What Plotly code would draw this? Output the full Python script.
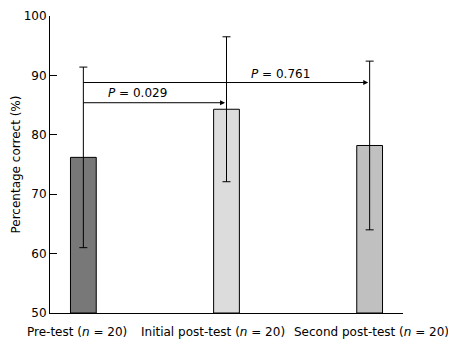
import plotly.graph_objects as go

categories = ["Pre-test", "Initial post-test", "Second post-test"]
n_values = [20, 20, 20]
means = [76.2, 84.3, 78.2]
errors = [15.2, 12.2, 14.2]
bar_colors = ["#787878", "#dcdcdc", "#c0c0c0"]
comparisons = [(0, 1, 85.4, "0.029"), (0, 2, 88.8, "0.761")]
p_label_pos = [(0.38, 87.1), (1.38, 90.3)]
y_ticks = [50, 60, 70, 80, 90, 100]

FONT = "DejaVu Sans"
xpos = list(range(len(categories)))

fig = go.Figure()
fig.add_trace(go.Bar(
    x=xpos, y=[m - 50 for m in means], base=50,
    width=0.18,
    marker=dict(color=bar_colors, line=dict(color="black", width=1)),
    error_y=dict(type="data", array=errors, visible=True, color="black",
                 thickness=1, width=4),
    showlegend=False,
))

annotations = []
label_shifts = [-6, -14, 2]
for i, (c, n) in enumerate(zip(categories, n_values)):
    annotations.append(dict(
        x=xpos[i], y=0, xref="x", yref="paper", yanchor="top",
        yshift=-10, xshift=label_shifts[i], showarrow=False,
        text=f"{c} (<i>n</i> = {n})",
        font=dict(family=FONT, size=12, color="black"),
    ))

for (a, b, yv, p), (tx, ty) in zip(comparisons, p_label_pos):
    annotations.append(dict(
        x=xpos[b] - 0.01, y=yv, ax=xpos[a] - 0.01, ay=yv,
        xref="x", yref="y", axref="x", ayref="y",
        showarrow=True, arrowhead=2, arrowsize=1, arrowwidth=1,
        arrowcolor="black", standoff=0, text="",
    ))
    annotations.append(dict(
        x=tx, y=ty, xref="x", yref="y", showarrow=False,
        text=f"<i>P</i> = {p}",
        font=dict(family=FONT, size=12, color="black"),
    ))

annotations.append(dict(
    x=0, y=0.5, xref="paper", yref="paper", xanchor="center",
    xshift=-35, textangle=-90, showarrow=False,
    text="Percentage correct (%)",
    font=dict(family=FONT, size=12, color="black"),
))

fig.update_layout(
    width=448, height=338,
    margin=dict(l=42, r=53, t=8, b=33, pad=0),
    paper_bgcolor="white", plot_bgcolor="white",
    font=dict(family=FONT, size=12, color="black"),
    annotations=annotations,
    xaxis=dict(range=[-0.233, 2.233], showticklabels=False, ticks="",
               showgrid=False, zeroline=False, showline=True,
               linecolor="black", linewidth=1, automargin=False),
    yaxis=dict(range=[50, 100], tickvals=y_ticks, ticks="inside",
               ticklen=7, tickcolor="black", tickwidth=1,
               showgrid=False, zeroline=False, showline=True,
               linecolor="black", linewidth=1, automargin=False,
               tickfont=dict(family=FONT, size=12)),
)

fig.write_html("out.html")
